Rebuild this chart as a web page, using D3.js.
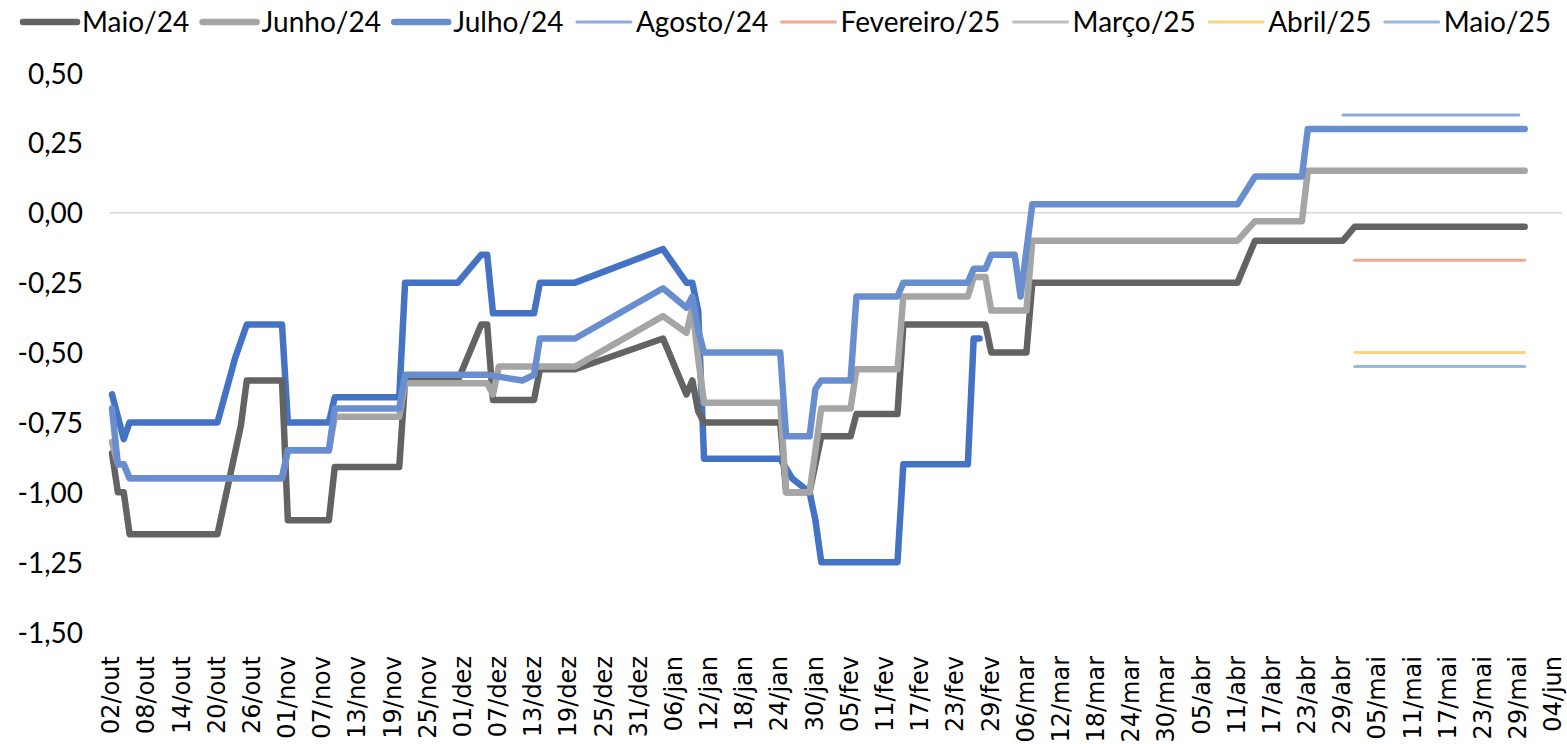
<!DOCTYPE html>
<html><head><meta charset="utf-8">
<script src="https://cdn.jsdelivr.net/npm/d3@7/dist/d3.min.js"></script>
<style>
html,body{margin:0;padding:0;background:#fff;}
svg{display:block;}
</style></head>
<body>
<svg id="chart" width="1567" height="744"></svg>
<script>
// ---------- DATA ----------
const monthAbbr = ["jan","fev","mar","abr","mai","jun","jul","ago","set","out","nov","dez"];
const tickDates = ["2023-10-02","2023-10-08","2023-10-14","2023-10-20","2023-10-26","2023-11-01","2023-11-07","2023-11-13","2023-11-19","2023-11-25",
 "2023-12-01","2023-12-07","2023-12-13","2023-12-19","2023-12-25","2023-12-31","2024-01-06","2024-01-12","2024-01-18","2024-01-24",
 "2024-01-30","2024-02-05","2024-02-11","2024-02-17","2024-02-23","2024-02-29","2024-03-06","2024-03-12","2024-03-18","2024-03-24",
 "2024-03-30","2024-04-05","2024-04-11","2024-04-17","2024-04-23","2024-04-29","2024-05-05","2024-05-11","2024-05-17","2024-05-23",
 "2024-05-29","2024-06-04"];
const yTicks = [0.5,0.25,0,-0.25,-0.5,-0.75,-1,-1.25,-1.5];
const xDomain = ["2023-10-02","2024-06-04"];
const yDomain = [-1.5,0.5];

// series without legend entry (dark blue)
const semLegenda = [["2023-10-02",-0.65],["2023-10-04",-0.81],["2023-10-05",-0.75],["2023-10-20",-0.75],["2023-10-23",-0.52],["2023-10-25",-0.40],
 ["2023-10-31",-0.40],["2023-11-01",-0.75],["2023-11-08",-0.75],["2023-11-09",-0.66],["2023-11-20",-0.66],["2023-11-21",-0.25],["2023-11-30",-0.25],
 ["2023-12-04",-0.15],["2023-12-05",-0.15],["2023-12-06",-0.36],["2023-12-13",-0.36],["2023-12-14",-0.25],["2023-12-20",-0.25],["2024-01-04",-0.13],
 ["2024-01-08",-0.25],["2024-01-09",-0.25],["2024-01-10",-0.35],["2024-01-11",-0.88],["2024-01-24",-0.88],["2024-01-26",-0.95],["2024-01-29",-1.00],
 ["2024-01-30",-1.10],["2024-01-31",-1.25],["2024-02-13",-1.25],["2024-02-14",-0.90],["2024-02-25",-0.90],["2024-02-26",-0.45],["2024-02-27",-0.45]];

const maio24 = [["2023-10-02",-0.86],["2023-10-03",-1.00],["2023-10-04",-1.00],["2023-10-05",-1.15],["2023-10-20",-1.15],["2023-10-24",-0.76],
 ["2023-10-25",-0.60],["2023-10-31",-0.60],["2023-11-01",-1.10],["2023-11-08",-1.10],["2023-11-09",-0.91],["2023-11-20",-0.91],["2023-11-21",-0.60],
 ["2023-11-30",-0.60],["2023-12-04",-0.40],["2023-12-05",-0.40],["2023-12-06",-0.67],["2023-12-13",-0.67],["2023-12-14",-0.56],["2023-12-20",-0.56],
 ["2024-01-04",-0.45],["2024-01-08",-0.65],["2024-01-09",-0.60],["2024-01-10",-0.71],["2024-01-11",-0.75],["2024-01-24",-0.75],["2024-01-25",-1.00],
 ["2024-01-29",-1.00],["2024-01-31",-0.80],["2024-02-05",-0.80],["2024-02-06",-0.72],["2024-02-13",-0.72],["2024-02-14",-0.40],["2024-02-28",-0.40],
 ["2024-02-29",-0.50],["2024-03-06",-0.50],["2024-03-07",-0.25],["2024-04-11",-0.25],["2024-04-14",-0.10],["2024-04-29",-0.10],["2024-05-01",-0.05],
 ["2024-05-30",-0.05]];

const junho24 = [["2023-10-02",-0.82],["2023-10-03",-0.90],["2023-10-04",-0.90],["2023-10-05",-0.95],["2023-10-31",-0.95],["2023-11-01",-0.85],
 ["2023-11-08",-0.85],["2023-11-09",-0.73],["2023-11-20",-0.73],["2023-11-21",-0.61],["2023-12-05",-0.61],["2023-12-06",-0.65],["2023-12-07",-0.55],
 ["2023-12-20",-0.55],["2024-01-04",-0.37],["2024-01-08",-0.43],["2024-01-09",-0.34],["2024-01-10",-0.52],["2024-01-11",-0.68],["2024-01-24",-0.68],
 ["2024-01-25",-1.00],["2024-01-29",-1.00],["2024-01-31",-0.70],["2024-02-05",-0.70],["2024-02-06",-0.56],["2024-02-13",-0.56],["2024-02-14",-0.30],
 ["2024-02-25",-0.30],["2024-02-26",-0.23],["2024-02-28",-0.23],["2024-02-29",-0.35],["2024-03-06",-0.35],["2024-03-07",-0.10],["2024-04-11",-0.10],
 ["2024-04-14",-0.03],["2024-04-22",-0.03],["2024-04-23",0.15],["2024-05-30",0.15]];

const julho24 = [["2023-10-02",-0.70],["2023-10-03",-0.90],["2023-10-04",-0.90],["2023-10-05",-0.95],["2023-10-31",-0.95],["2023-11-01",-0.85],
 ["2023-11-08",-0.85],["2023-11-09",-0.70],["2023-11-20",-0.70],["2023-11-21",-0.58],["2023-12-05",-0.58],["2023-12-11",-0.60],["2023-12-13",-0.58],
 ["2023-12-14",-0.45],["2023-12-20",-0.45],["2024-01-04",-0.27],["2024-01-08",-0.34],["2024-01-09",-0.30],["2024-01-10",-0.42],["2024-01-11",-0.50],
 ["2024-01-24",-0.50],["2024-01-25",-0.80],["2024-01-29",-0.80],["2024-01-30",-0.63],["2024-01-31",-0.60],["2024-02-05",-0.60],["2024-02-06",-0.30],
 ["2024-02-13",-0.30],["2024-02-14",-0.25],["2024-02-25",-0.25],["2024-02-26",-0.20],["2024-02-28",-0.20],["2024-02-29",-0.15],["2024-03-04",-0.15],
 ["2024-03-05",-0.30],["2024-03-07",0.03],["2024-04-11",0.03],["2024-04-14",0.13],["2024-04-22",0.13],["2024-04-23",0.30],["2024-05-30",0.30]];

const agosto24 = [["2024-04-29",0.35],["2024-05-29",0.35]];
const fevereiro25 = [["2024-05-01",-0.17],["2024-05-30",-0.17]];
const marco25 = [];
const abril25 = [["2024-05-01",-0.50],["2024-05-30",-0.50]];
const maio25 = [["2024-05-01",-0.55],["2024-05-30",-0.55]];

const seriesNames = ["", "Maio/24","Junho/24","Julho/24","Agosto/24","Fevereiro/25","Março/25","Abril/25","Maio/25"];
const seriesData = [semLegenda, maio24, junho24, julho24, agosto24, fevereiro25, marco25, abril25, maio25];
const seriesColors = ["#4472C4","#636363","#A5A5A5","#698ED0","#8FAADC","#F0A88A","#BFBFBF","#FFD47F","#97BAE3"];
const seriesWidths = [6.5,6.5,6.5,6.5,3,3,3,3,3];

// ---------- CHART ----------
const svg = d3.select("#chart");
const parse = d3.timeParse("%Y-%m-%d");
const plot = {left:110, right:1562, top:73, bottom:632, dataLeft:112, dataRight:1554};

const x = d3.scaleTime().domain(xDomain.map(parse)).range([plot.dataLeft, plot.dataRight]);
const y = d3.scaleLinear().domain(yDomain).range([plot.bottom, plot.top]);

// zero line
svg.append("line")
  .attr("x1", plot.left).attr("x2", plot.right)
  .attr("y1", y(0)).attr("y2", y(0))
  .attr("stroke", "#D9D9D9").attr("stroke-width", 1.5);

// y axis labels
const fmtY = v => d3.format(".2f")(v).replace(".", ",").replace("−","-");
const yAxis = d3.axisLeft(y).tickValues(yTicks).tickSize(0).tickPadding(0).tickFormat(fmtY);
const gy = svg.append("g").attr("transform", `translate(${plot.left - 27},0)`).call(yAxis);
gy.select(".domain").remove();
gy.selectAll("text").attr("font-family","Lato, 'Open Sans', sans-serif").attr("font-size",28).attr("fill","#000").attr("dy","0.36em");

// x axis labels
const fmtX = d => d3.timeFormat("%d")(d) + "/" + monthAbbr[d.getMonth()];
const xAxis = d3.axisBottom(x).tickValues(tickDates.map(parse)).tickSize(0).tickFormat(fmtX);
const gx = svg.append("g").attr("transform", `translate(0,${plot.bottom})`).call(xAxis);
gx.select(".domain").remove();
gx.selectAll("text")
  .attr("font-family","'DejaVu Sans', sans-serif").attr("font-size",24).attr("fill","#000")
  .attr("transform","rotate(-90)").attr("x",-24).attr("y",0).attr("dy","0.28em")
  .attr("text-anchor","end");

// lines
const line = d3.line().x(d => x(parse(d[0]))).y(d => y(d[1]));
seriesData.forEach((data, i) => {
  if (!data.length) return;
  svg.append("path").datum(data)
    .attr("d", line).attr("fill","none")
    .attr("stroke", seriesColors[i]).attr("stroke-width", seriesWidths[i])
    .attr("stroke-linejoin","round").attr("stroke-linecap","round");
});

// legend
const legY = 22, legStart = 23, legEnd = 1551, sampleLen = 54, sampleGap = 5;
const legend = svg.append("g");
const items = [];
seriesNames.forEach((name, i) => {
  if (!name) return;
  const g = legend.append("g");
  g.append("line").attr("x1",0).attr("x2",sampleLen).attr("y1",legY).attr("y2",legY)
    .attr("stroke",seriesColors[i]).attr("stroke-width",seriesWidths[i]).attr("stroke-linecap","round");
  const t = g.append("text").attr("x",sampleLen+sampleGap).attr("y",legY).attr("dy","0.36em")
    .attr("font-family","Lato, 'Open Sans', sans-serif").attr("font-size",28).attr("fill","#000").text(name);
  items.push({g, w: sampleLen + sampleGap + t.node().getComputedTextLength()});
});
const totalW = d3.sum(items, d => d.w);
const gap = (legEnd - legStart - totalW) / (items.length - 1);
let cx = legStart;
items.forEach(it => { it.g.attr("transform", `translate(${cx},0)`); cx += it.w + gap; });
</script>
</body></html>
